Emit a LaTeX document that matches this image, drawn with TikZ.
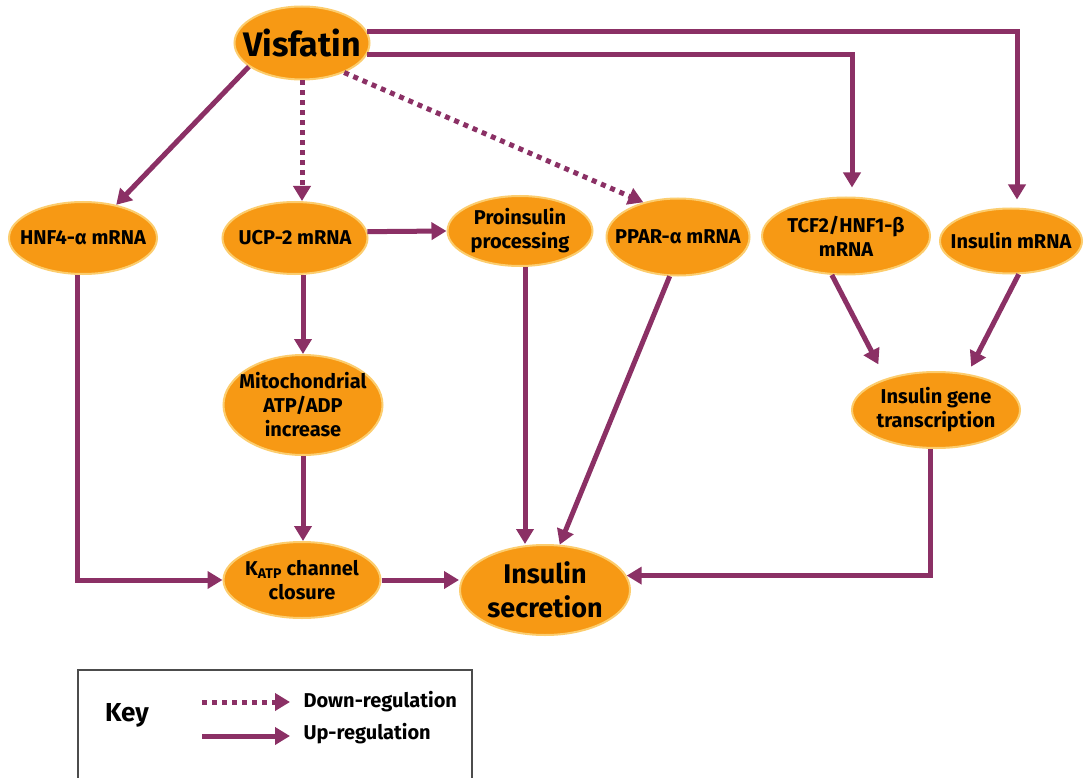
\documentclass[tikz,border=0pt]{standalone}
\usepackage{fontspec}
\setmainfont{Fira Sans}
\usepackage{tikz}
\usetikzlibrary{shapes,arrows.meta,positioning}
\usetikzlibrary{calc}
\definecolor{plum}{RGB}{139,48,101}
\definecolor{blob}{RGB}{247,153,20}
\definecolor{rim}{RGB}{252,205,110}

\begin{document}
\begin{tikzpicture}
  [
    x=1pt, y=-1pt,
    Blob/.style={ellipse, draw=rim, line width=2pt, fill=blob, inner xsep=-40pt, inner ysep=-20pt, align=center, font=\fontsize{20}{24}\selectfont\bfseries},
    Up/.style={draw=plum, line width=5pt, -{Triangle[length=15pt, width=17pt]}},
    Down/.style={Up, dash pattern=on 5pt off 5pt},
    KeyText/.style={anchor=west, font=\fontsize{20}{24}\selectfont\bfseries}
  ]
  \fill[white] (0,0) rectangle (1084,778);
  \useasboundingbox (0,0) rectangle (1084,778);

  % Nodes
  \node[Blob, minimum width=135pt, minimum height=73pt, font=\fontsize{34}{40}\selectfont\bfseries] (vis) at (302,43) {Visfatin};

  \node[Blob, minimum width=148pt, minimum height=72pt] (hnf) at (83,238) {HNF4-α mRNA};
  \node[Blob, minimum width=145pt, minimum height=72pt] (ucp) at (295,238) {UCP-2 mRNA};
  \node[Blob, minimum width=145pt, minimum height=70pt] (pro) at (520,231) {Proinsulin\\processing};
  \node[Blob, minimum width=143pt, minimum height=77pt] (ppar) at (678,237) {PPAR-α mRNA};
  \node[Blob, minimum width=168pt, minimum height=77pt] (tcf) at (846,236) {TCF2/HNF1-β\\mRNA};
  \node[Blob, minimum width=142pt, minimum height=65pt] (insm) at (1011,241) {Insulin mRNA};

  \node[Blob, minimum width=159pt, minimum height=100pt] (mito) at (303,405) {Mitochondrial\\ATP/ADP\\increase};
  \node[Blob, minimum width=168pt, minimum height=76pt] (igt) at (936,410) {Insulin gene\\transcription};

  \node[Blob, minimum width=157pt, minimum height=76pt] (katp) at (302,580) {K\textsubscript{ATP} channel\\closure};
  \node[Blob, minimum width=170pt, minimum height=90pt, font=\fontsize{27}{34}\selectfont\bfseries] (sec) at (545,590) {Insulin\\secretion};

  % Lines
  \draw[Up] (vis.204) -- (hnf.45);
  \draw[Down] (vis.south) -- (vis.south |- ucp.north);
  \draw[Down] (vis.325) -- (ppar.135);
  \draw[Up, shorten >=9pt] (vis.350) -| ([xshift=6pt]tcf.north);
  \draw[Up, shorten >=8pt] (vis.10) -| ([xshift=6pt]insm.north);

  \draw[Up] (ucp.5) -- (pro.west);
  \draw[Up] (ucp.south -| mito.north) -- (mito.north);
  \draw[Up] (mito.south) -- (mito.south |- katp.north);
  \draw[Up] ([xshift=-6pt]hnf.south) |- (katp.west);
  \draw[Up] (katp.east) -- (katp.east -| sec.west);
  \draw[Up] ([xshift=5pt]pro.south) -- ([xshift=5pt]pro.south |- sec.north);
  \draw[Up] (ppar.258) -- (sec.72);
  \draw[Up, shorten >=16pt] (tcf.250) -- (igt.148);
  \draw[Up, shorten >=8pt] (insm.283) -- (igt.49);
  \draw[Up] ([xshift=-6pt]igt.south) |- (sec.10);

  % Key
  \draw[line width=1.5pt, draw=black!70] (78,778) |- (472,670) -- (472,778);
  \node[font=\fontsize{26}{30}\selectfont\bfseries] (key) at (127,715) {Key};
  \node[KeyText] (dlab) at (300,702) {Down-regulation};
  \node[KeyText] (ulab) at (300,734) {Up-regulation};
  \coordinate (d1) at (202,702);
  \coordinate (d2) at (290,702);
  \coordinate (u1) at (202,736);
  \coordinate (u2) at (290,736);
  \draw[Down] (d1) -- (d2);
  \draw[Up] (u1) -- (u2);

\end{tikzpicture}
\end{document}
